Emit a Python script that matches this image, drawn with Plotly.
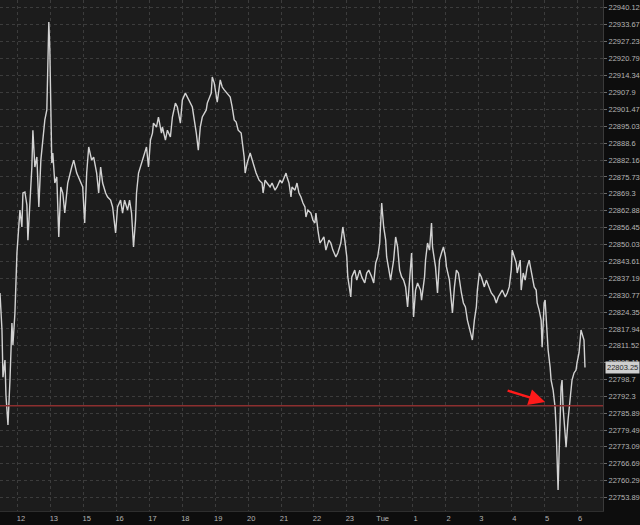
import plotly.graph_objects as go

# ---- data ----
# time in session hours: 0 = "12", each later hour label is +1 (the 14:00 break hour is skipped)
t_hours = [
    -0.545, -0.485, -0.455, -0.394, -0.364, -0.303, -0.242, -0.182, -0.152, -0.091,
    -0.030, 0.000, 0.061, 0.121, 0.152, 0.212, 0.273, 0.303, 0.364, 0.424,
    0.455, 0.515, 0.576, 0.636, 0.697, 0.758, 0.818, 0.879, 0.909, 0.939,
    0.970, 1.000, 1.030, 1.061, 1.121, 1.182, 1.242, 1.303, 1.364, 1.424,
    1.515, 1.636, 1.697, 1.788, 1.879, 1.970, 2.030, 2.091, 2.152, 2.242,
    2.303, 2.394, 2.455, 2.515, 2.576, 2.667, 2.727, 2.818, 2.879, 2.970,
    3.030, 3.121, 3.182, 3.242, 3.333, 3.394, 3.455, 3.485, 3.515, 3.576,
    3.606, 3.667, 3.758, 3.818, 3.909, 3.970, 4.030, 4.091, 4.121, 4.212,
    4.273, 4.364, 4.394, 4.485, 4.545, 4.636, 4.697, 4.788, 4.848, 4.939,
    5.000, 5.091, 5.152, 5.242, 5.303, 5.424, 5.485, 5.545, 5.606, 5.727,
    5.758, 5.879, 5.909, 5.970, 6.030, 6.061, 6.152, 6.212, 6.273, 6.364,
    6.455, 6.515, 6.576, 6.636, 6.697, 6.788, 6.818, 6.879, 6.909, 6.970,
    7.061, 7.121, 7.182, 7.242, 7.333, 7.424, 7.455, 7.515, 7.576, 7.667,
    7.727, 7.818, 7.879, 7.970, 8.030, 8.091, 8.152, 8.182, 8.242, 8.303,
    8.333, 8.424, 8.485, 8.545, 8.606, 8.667, 8.727, 8.758, 8.818, 8.909,
    8.970, 9.030, 9.061, 9.121, 9.182, 9.242, 9.303, 9.364, 9.455, 9.515,
    9.576, 9.667, 9.727, 9.818, 9.879, 9.939, 10.000, 10.030, 10.121, 10.152,
    10.242, 10.303, 10.394, 10.455, 10.545, 10.606, 10.667, 10.758, 10.818, 10.879,
    10.939, 11.000, 11.061, 11.121, 11.182, 11.212, 11.273, 11.333, 11.364, 11.424,
    11.485, 11.545, 11.606, 11.667, 11.727, 11.788, 11.848, 11.909, 11.939, 11.970,
    12.030, 12.091, 12.152, 12.242, 12.273, 12.364, 12.394, 12.455, 12.515, 12.545,
    12.576, 12.606, 12.697, 12.758, 12.818, 12.879, 12.939, 13.000, 13.030, 13.121,
    13.182, 13.212, 13.273, 13.333, 13.394, 13.455, 13.485, 13.545, 13.606, 13.667,
    13.727, 13.758, 13.818, 13.879, 13.939, 13.970, 14.030, 14.091, 14.182, 14.242,
    14.333, 14.394, 14.485, 14.545, 14.606, 14.667, 14.727, 14.818, 14.879, 14.939,
    15.000, 15.030, 15.091, 15.152, 15.182, 15.273, 15.303, 15.364, 15.424, 15.485,
    15.545, 15.606, 15.636, 15.697, 15.758, 15.788, 15.848, 15.909, 15.939, 16.000,
    16.030, 16.061, 16.091, 16.121, 16.182, 16.212, 16.273, 16.333, 16.364, 16.394,
    16.424, 16.455, 16.485, 16.515, 16.545, 16.576, 16.636, 16.667, 16.727, 16.788,
    16.818, 16.848, 16.909, 16.970, 17.000, 17.061, 17.121, 17.152, 17.212, 17.242,
]

price = [
    22831.6, 22817.5, 22799.6, 22806.1, 22792.8, 22781.4, 22798.5, 22820.2, 22811.8, 22824.0,
    22846.8, 22851.7, 22863.1, 22856.7, 22869.6, 22870.0, 22865.0, 22851.7, 22866.9, 22879.5,
    22893.5, 22879.5, 22883.3, 22864.3, 22882.1, 22889.7, 22897.4, 22901.2, 22917.5, 22934.6,
    22924.0, 22905.0, 22881.0, 22884.8, 22873.4, 22875.7, 22852.9, 22871.9, 22869.6, 22862.0,
    22873.4, 22879.5, 22882.1, 22877.2, 22874.5, 22871.9, 22858.2, 22877.2, 22887.1, 22882.1,
    22883.3, 22877.2, 22869.6, 22879.5, 22873.4, 22869.6, 22868.1, 22866.9, 22864.3, 22854.4,
    22864.3, 22866.9, 22862.0, 22866.9, 22863.1, 22866.9, 22862.0, 22856.7, 22849.1, 22859.3,
    22869.6, 22877.2, 22881.0, 22883.3, 22887.1, 22879.5, 22889.7, 22892.4, 22896.2, 22894.7,
    22898.5, 22892.4, 22894.7, 22889.7, 22893.5, 22890.9, 22898.5, 22903.8, 22902.3, 22896.2,
    22905.0, 22907.6, 22906.1, 22903.8, 22902.3, 22892.4, 22885.9, 22894.7, 22898.5, 22901.2,
    22903.8, 22907.6, 22913.7, 22911.4, 22907.6, 22904.2, 22912.6, 22909.9, 22908.8, 22907.6,
    22906.1, 22902.3, 22897.4, 22896.6, 22893.5, 22892.4, 22889.7, 22883.3, 22877.2, 22881.0,
    22884.8, 22882.1, 22879.5, 22877.2, 22874.5, 22873.4, 22869.6, 22874.5, 22873.4, 22871.9,
    22873.4, 22870.7, 22871.9, 22874.5, 22873.4, 22875.7, 22877.2, 22875.7, 22873.4, 22868.1,
    22871.9, 22870.7, 22873.4, 22869.6, 22868.1, 22865.8, 22864.3, 22860.5, 22863.1, 22862.0,
    22859.3, 22858.2, 22862.0, 22855.5, 22850.6, 22851.7, 22852.9, 22847.9, 22851.7, 22850.6,
    22847.9, 22845.3, 22846.8, 22850.6, 22856.7, 22851.7, 22845.3, 22837.7, 22830.1, 22837.7,
    22840.3, 22836.5, 22840.3, 22837.7, 22835.4, 22839.2, 22840.3, 22837.7, 22835.4, 22843.0,
    22845.3, 22850.6, 22865.8, 22856.7, 22851.7, 22845.3, 22841.5, 22836.5, 22839.2, 22844.1,
    22852.9, 22849.1, 22840.3, 22837.7, 22836.5, 22833.9, 22826.3, 22836.5, 22840.3, 22846.8,
    22822.5, 22832.7, 22835.4, 22832.7, 22828.9, 22837.7, 22844.1, 22850.6, 22847.9, 22854.4,
    22858.2, 22849.1, 22841.5, 22831.6, 22844.1, 22846.8, 22849.1, 22845.3, 22841.5, 22836.5,
    22828.9, 22824.0, 22833.9, 22840.3, 22839.2, 22832.7, 22831.6, 22827.8, 22826.3, 22821.3,
    22818.6, 22816.4, 22813.7, 22821.3, 22826.3, 22832.7, 22839.2, 22837.7, 22833.9, 22836.5,
    22833.9, 22831.6, 22830.1, 22827.8, 22830.1, 22831.6, 22832.7, 22830.1, 22831.6, 22833.9,
    22840.3, 22847.9, 22845.3, 22843.0, 22839.2, 22844.1, 22832.7, 22839.2, 22836.5, 22841.5,
    22844.1, 22840.3, 22837.7, 22833.9, 22832.7, 22827.8, 22825.1, 22821.3, 22811.0, 22827.8,
    22828.9, 22821.3, 22813.7, 22809.9, 22803.4, 22798.5, 22794.7, 22788.2, 22780.6, 22764.3,
    22756.7, 22770.7, 22783.3, 22795.8, 22798.5, 22788.2, 22778.3, 22773.0, 22783.3, 22790.9,
    22795.8, 22798.5, 22801.2, 22802.3, 22805.0, 22808.8, 22817.5, 22816.4, 22813.7, 22803.25,
]

hour_labels = ["12", "13", "15", "16", "17", "18", "19", "20", "21", "22",
               "23", "Tue", "1", "2", "3", "4", "5", "6"]
hour_positions = list(range(len(hour_labels)))

price_ticks = [22940.12, 22933.67, 22927.23, 22920.79, 22914.34, 22907.9, 22901.47,
               22895.03, 22888.6, 22882.16, 22875.73, 22869.3, 22862.88, 22856.45,
               22850.03, 22843.61, 22837.19, 22830.77, 22824.35, 22817.94, 22811.52,
               22805.11, 22798.7, 22792.3, 22785.89, 22779.49, 22773.09, 22766.69,
               22760.29, 22753.89]

support_level = 22788.7
last_price = 22803.25
arrow_tip = (16.03, 22790.1)
x_range = [-0.545, 17.79]
y_range = [22748.7, 22943.0]

# ---- figure ----
fig = go.Figure()

fig.add_trace(go.Scatter(
    x=t_hours, y=price, mode="lines",
    line=dict(color="#d2d2d2", width=1.4),
    hoverinfo="skip", showlegend=False,
))

fig.add_shape(type="line", xref="paper", x0=0, x1=1, yref="y",
              y0=support_level, y1=support_level,
              line=dict(color="#8c2f2f", width=1.5))

fig.add_annotation(
    x=arrow_tip[0], y=arrow_tip[1], xref="x", yref="y",
    ax=-39, ay=-12, axref="pixel", ayref="pixel",
    showarrow=True, arrowhead=2, arrowsize=1.3, arrowwidth=2.5,
    arrowcolor="#ff1a1a", text="",
)

fig.add_annotation(
    x=1, xref="paper", y=last_price, yref="y",
    xanchor="left", yanchor="middle", xshift=2,
    text="22803.25", showarrow=False,
    font=dict(family="Liberation Sans, Arial, sans-serif", size=7.5, color="#2a2a2a"),
    bgcolor="#cfcfcf", borderpad=1,
)

axis_font = dict(family="Liberation Sans, Arial, sans-serif", size=7.5, color="#b4b4b4")

fig.update_layout(
    width=640, height=525,
    margin=dict(l=0, r=35, t=0, b=14),
    paper_bgcolor="#0d0d0d",
    plot_bgcolor="#1c1c1c",
    showlegend=False,
    xaxis=dict(
        range=x_range, tickmode="array", tickvals=hour_positions, ticktext=hour_labels,
        showgrid=True, gridcolor="#3c3c3c", griddash="dot", gridwidth=1,
        zeroline=False, showline=True, linecolor="#2e2e2e",
        ticks="", tickfont=axis_font, ticklabelshift=3, ticklabelstandoff=0,
        fixedrange=True,
    ),
    yaxis=dict(
        range=y_range, side="right", tickmode="array", tickvals=price_ticks,
        ticktext=[str(v) for v in price_ticks],
        showgrid=True, gridcolor="#3c3c3c", griddash="dot", gridwidth=1,
        zeroline=False, showline=True, linecolor="#3a3a3a",
        ticks="outside", ticklen=3, tickcolor="#6a6a6a",
        tickfont=axis_font, fixedrange=True,
    ),
)

fig.write_html(
    "out.html",
    config={"displayModeBar": False},
    post_script="document.body.style.margin='0';document.body.style.background='#0d0d0d';",
)
